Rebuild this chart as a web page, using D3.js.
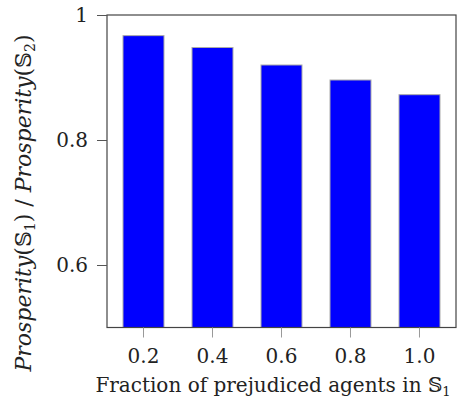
<!DOCTYPE html>
<html><head><meta charset="utf-8">
<script src="https://cdn.jsdelivr.net/npm/d3@7"></script>
<style>
body{margin:0;background:#fff;}
svg text{font-family:"DejaVu Serif",serif !important;fill:#222;}
</style></head>
<body><svg id="c" width="470" height="405"></svg>
<script>
const categories = ["0.2","0.4","0.6","0.8","1.0"];
const ratioValues = [0.967, 0.948, 0.920, 0.896, 0.8725];
const yTicks = [0.6, 0.8, 1];
const yTickLabels = ["0.6","0.8","1"];

const svg = d3.select("#c");
const L=107, R=456, T=15, B=327.5;
const x = d3.scaleBand().domain(categories).range([L,R]).paddingInner(0.406).paddingOuter(0.232);
const y = d3.scaleLinear().domain([0.5,1]).range([B,T]);

svg.selectAll("rect.bar").data(categories).enter().append("rect")
  .attr("class","bar")
  .attr("x",d=>x(d)).attr("width",x.bandwidth())
  .attr("y",(d,i)=>y(ratioValues[i])).attr("height",(d,i)=>B-y(ratioValues[i]))
  .attr("fill","#0000ff").attr("stroke","#aaaaaa").attr("stroke-width",1);

svg.append("rect").attr("x",L).attr("y",T).attr("width",R-L).attr("height",B-T)
  .attr("fill","none").attr("stroke","#444").attr("stroke-width",1.2);

const ya = svg.append("g").attr("transform",`translate(${L},0)`)
  .call(d3.axisLeft(y).tickValues(yTicks).tickFormat((d,i)=>yTickLabels[i]).tickSize(10).tickPadding(9));
ya.select(".domain").remove();
ya.selectAll("line").attr("stroke","#555");
ya.selectAll("text").style("font-size","20px").attr("fill","#222");

const xa = svg.append("g").attr("transform",`translate(0,${B})`)
  .call(d3.axisBottom(x).tickSize(10).tickPadding(9));
xa.select(".domain").remove();
xa.selectAll("line").attr("stroke","#999");
xa.selectAll("text").style("font-size","20px").attr("fill","#222").attr("dy","0.8em");

const xt = svg.append("text").attr("x",273).attr("y",392).attr("text-anchor","middle").style("font-size","20px");
xt.append("tspan").text("Fraction of prejudiced agents in ");
xt.append("tspan").text("\u{1D54A}");
xt.append("tspan").style("font-size","13px").attr("dy","4").text("1");

const yt = svg.append("text").attr("transform","translate(31,203) rotate(-90)").attr("text-anchor","middle").style("font-size","22px");
function prosp(sel, sub){
  sel.append("tspan").style("font-style","italic").text("Prosperity");
  sel.append("tspan").text("(\u{1D54A}");
  sel.append("tspan").style("font-size","14px").attr("dy","4").text(sub);
  sel.append("tspan").attr("dy","-4").text(")");
}
prosp(yt,"1");
yt.append("tspan").text("\u00a0/\u00a0");
prosp(yt,"2");
</script></body></html>
